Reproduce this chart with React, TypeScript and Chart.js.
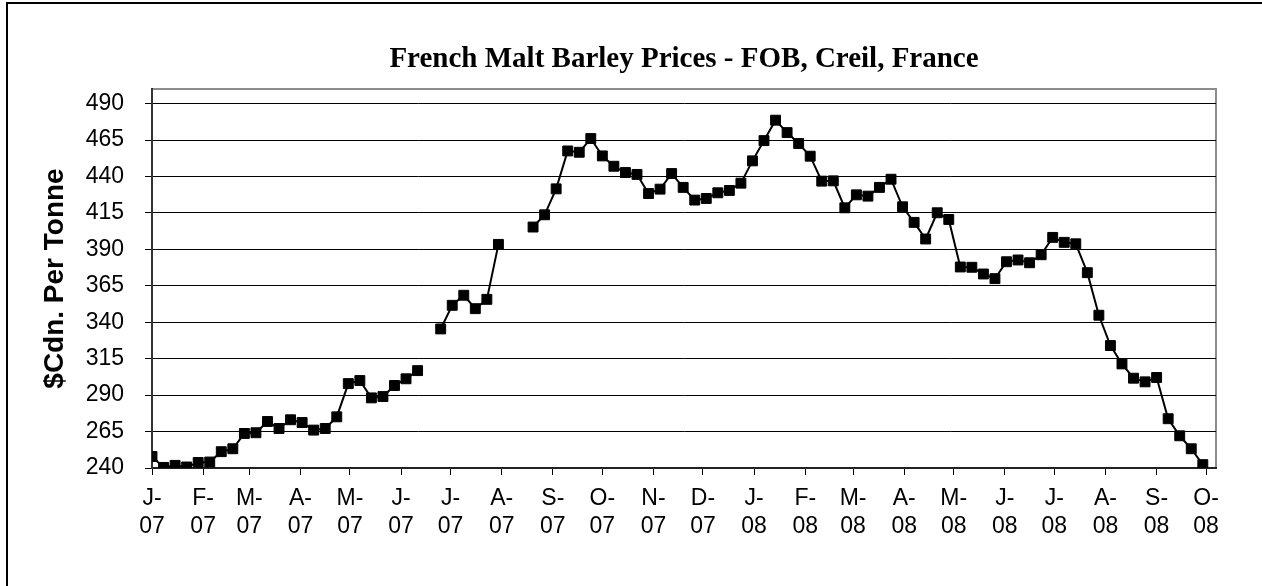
import React, { useEffect, useRef } from 'react';
import { Chart, registerables } from 'chart.js';

Chart.register(...registerables);

const chartTitle = 'French Malt Barley Prices - FOB, Creil, France';
const yAxisTitle = '$Cdn. Per Tonne';

// weekly series, first observation on this date
const seriesStart = '2007-01-01';
const axisEndDate = '2008-10-07';

const monthTickDates = [
  '2007-01-01', '2007-02-01', '2007-03-01', '2007-04-01', '2007-05-01', '2007-06-01',
  '2007-07-01', '2007-08-01', '2007-09-01', '2007-10-01', '2007-11-01', '2007-12-01',
  '2008-01-01', '2008-02-01', '2008-03-01', '2008-04-01', '2008-05-01', '2008-06-01',
  '2008-07-01', '2008-08-01', '2008-09-01', '2008-10-01',
];
const monthTickLabels = [
  'J-07', 'F-07', 'M-07', 'A-07', 'M-07', 'J-07', 'J-07', 'A-07', 'S-07', 'O-07', 'N-07', 'D-07',
  'J-08', 'F-08', 'M-08', 'A-08', 'M-08', 'J-08', 'J-08', 'A-08', 'S-08', 'O-08',
];

const yTicks = [240, 265, 290, 315, 340, 365, 390, 415, 440, 465, 490];
const yMin = 240;
const yMax = 500;

const prices: (number | null)[] = [
  247.9, 240.4, 241.8, 240.7, 243.8, 244.1, 251.2, 253.2, 263.7, 264.2,
  271.9, 267.1, 273.1, 271.2, 266.0, 267.1, 275.1, 297.9, 300.0, 288.1,
  289.0, 296.6, 301.2, 306.8, null, 335.4, 351.6, 358.5, 349.3, 355.7,
  393.4, null, null, 405.3, 413.7, 431.5, 457.5, 456.6, 466.0, 454.1,
  447.0, 442.7, 441.4, 428.3, 431.3, 442.0, 432.5, 423.8, 424.9, 428.8,
  430.4, 435.4, 450.7, 464.6, 478.6, 470.1, 462.6, 453.9, 436.8, 437.0,
  418.5, 427.4, 426.5, 432.5, 438.1, 419.2, 408.5, 397.1, 415.1, 410.5,
  377.9, 377.7, 373.1, 369.9, 381.5, 382.7, 380.8, 386.3, 398.2, 394.8,
  393.8, 374.0, 344.8, 324.0, 311.4, 301.6, 299.1, 302.1, 273.8, 262.1,
  253.2, 242.3,
];

const DAY_MS = 86400000;
const dayOf = (iso: string) => (Date.parse(iso) - Date.parse(seriesStart)) / DAY_MS;

const plotDecor = {
  id: 'plotDecor',
  beforeDraw(chart: any) {
    const { ctx, chartArea } = chart;
    ctx.save();
    ctx.strokeStyle = '#8c8c8c';
    ctx.lineWidth = 2;
    ctx.strokeRect(chartArea.left, chartArea.top, chartArea.right - chartArea.left, chartArea.bottom - chartArea.top);
    ctx.restore();
  },
  afterDraw(chart: any) {
    const { ctx, chartArea } = chart;
    ctx.save();
    ctx.fillStyle = '#000';
    ctx.font = 'bold 29px "Liberation Serif", "Times New Roman", serif';
    ctx.textAlign = 'center';
    ctx.textBaseline = 'middle';
    ctx.fillText(chartTitle, (chartArea.left + chartArea.right) / 2, 60);
    ctx.restore();
  },
};

export default function App() {
  const canvasRef = useRef<HTMLCanvasElement | null>(null);

  useEffect(() => {
    const canvas = canvasRef.current;
    if (!canvas) return;
    const tickDays = monthTickDates.map(dayOf);
    const points = prices.map((v, i) => ({ x: dayOf(seriesStart) + 7 * i, y: v }));

    const chart = new Chart(canvas, {
      type: 'line',
      data: {
        datasets: [
          {
            label: 'Price',
            data: points as any,
            borderColor: '#000',
            backgroundColor: '#000',
            borderWidth: 2,
            pointStyle: 'rect',
            pointRadius: 7,
            pointBackgroundColor: '#000',
            pointBorderColor: '#000',
            pointBorderWidth: 1,
            spanGaps: false,
            tension: 0,
          },
        ],
      },
      plugins: [plotDecor],
      options: {
        animation: false,
        responsive: false,
        devicePixelRatio: 1,
        layout: { padding: { top: 89, right: 46, bottom: 0, left: 0 } },
        plugins: {
          legend: { display: false },
          tooltip: { enabled: false },
          title: { display: false },
        },
        scales: {
          x: {
            type: 'linear',
            min: 0,
            max: dayOf(axisEndDate),
            afterBuildTicks: (scale: any) => {
              scale.ticks = tickDays.map((v) => ({ value: v }));
            },
            afterFit: (scale: any) => {
              scale.height = 118;
            },
            ticks: {
              autoSkip: false,
              maxRotation: 0,
              minRotation: 0,
              padding: 10,
              color: '#000',
              font: { family: '"Liberation Sans", Arial, sans-serif', size: 23, lineHeight: 28 / 23 },
              callback: (_v: any, i: number) => {
                const parts = monthTickLabels[i].split('-');
                return [parts[0] + '-', parts[1]];
              },
            },
            grid: {
              drawOnChartArea: false,
              drawTicks: true,
              tickLength: 7,
              color: '#000',
              lineWidth: 1,
            },
            border: { display: true, color: '#222', width: 2 },
          },
          y: {
            type: 'linear',
            min: yMin,
            max: yMax,
            afterBuildTicks: (scale: any) => {
              scale.ticks = yTicks.map((v) => ({ value: v }));
            },
            afterFit: (scale: any) => {
              scale.width = 152;
            },
            ticks: {
              padding: 21,
              color: '#000',
              font: { family: '"Liberation Sans", Arial, sans-serif', size: 23 },
              callback: (v: any) => String(v),
            },
            grid: {
              drawOnChartArea: true,
              drawTicks: true,
              tickLength: 7,
              color: '#000',
              lineWidth: 1,
            },
            border: { display: true, color: '#333', width: 2 },
            title: {
              display: true,
              text: yAxisTitle,
              color: '#000',
              font: { family: '"Liberation Sans", Arial, sans-serif', size: 28, weight: 'bold', lineHeight: 1.2 },
              padding: { top: 38, bottom: 0 },
            },
          },
        },
      },
    });
    return () => chart.destroy();
  }, []);

  return (
    <div
      style={{
        position: 'absolute',
        left: 0,
        top: 0,
        width: 1262,
        height: 586,
        overflow: 'hidden',
        background: '#fff',
      }}
    >
      <canvas
        ref={canvasRef}
        width={1262}
        height={586}
        style={{ position: 'absolute', left: 0, top: 0, width: 1262, height: 586, display: 'block' }}
      />
      <div
        style={{
          position: 'absolute',
          left: 6,
          top: 2,
          width: 1400,
          height: 700,
          border: '2px solid #000',
          pointerEvents: 'none',
        }}
      />
    </div>
  );
}
